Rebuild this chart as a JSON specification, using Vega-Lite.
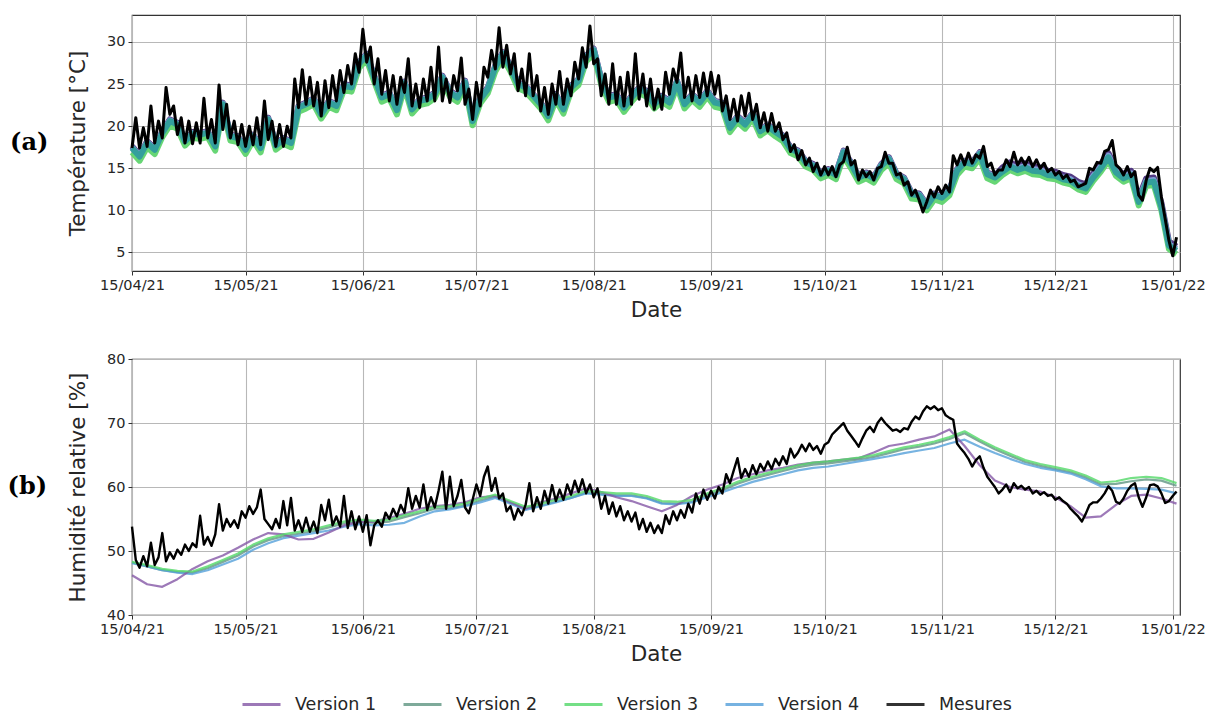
{
  "$schema": "https://vega.github.io/schema/vega-lite/v6.json",
  "padding": {"left": 6, "top": 14, "right": 2, "bottom": 0},
  "config": {
    "view": {"stroke": "#333333", "strokeWidth": 1.2},
    "font": "DejaVu Sans",
    "axis": {"labelFont": "DejaVu Sans", "labelFontSize": 14.5, "labelColor": "#262626", "titleFont": "DejaVu Sans", "titleFontSize": 21.5, "titleFontWeight": "normal", "titleColor": "#262626", "gridColor": "#b8b8b8", "gridWidth": 1.1, "domain": false, "tickColor": "#333333", "tickSize": 4, "labelPadding": 3}
  },
  "datasets": {
    "m": [
{"d":"2021-04-15","t":17.4,"h":53.8},{"d":"2021-04-16","t":21.0,"h":48.6},{"d":"2021-04-17","t":17.4,"h":47.4},{"d":"2021-04-18","t":19.8,"h":49.2},{"d":"2021-04-19","t":17.6,"h":47.6},{"d":"2021-04-20","t":22.4,"h":51.3},{"d":"2021-04-21","t":18.0,"h":47.8},{"d":"2021-04-22","t":20.6,"h":49.0},{"d":"2021-04-23","t":18.6,"h":52.8},{"d":"2021-04-24","t":24.6,"h":48.4},{"d":"2021-04-25","t":21.4,"h":49.8},{"d":"2021-04-26","t":22.4,"h":48.8},{"d":"2021-04-27","t":19.0,"h":50.2},{"d":"2021-04-28","t":21.0,"h":49.4},{"d":"2021-04-29","t":18.0,"h":51.0},{"d":"2021-04-30","t":20.6,"h":50.0},
{"d":"2021-05-01","t":17.9,"h":51.2},{"d":"2021-05-02","t":20.4,"h":50.6},{"d":"2021-05-03","t":18.0,"h":55.5},{"d":"2021-05-04","t":23.3,"h":51.0},{"d":"2021-05-05","t":18.6,"h":52.2},{"d":"2021-05-06","t":20.8,"h":50.8},{"d":"2021-05-07","t":18.0,"h":52.6},{"d":"2021-05-08","t":24.9,"h":57.3},{"d":"2021-05-09","t":19.6,"h":53.2},{"d":"2021-05-10","t":22.6,"h":55.0},{"d":"2021-05-11","t":18.6,"h":53.8},{"d":"2021-05-12","t":20.6,"h":54.8},{"d":"2021-05-13","t":17.8,"h":53.6},{"d":"2021-05-14","t":20.2,"h":56.2},{"d":"2021-05-15","t":17.6,"h":55.2},{"d":"2021-05-16","t":20.0,"h":57.0},{"d":"2021-05-17","t":17.8,"h":55.8},{"d":"2021-05-18","t":21.0,"h":56.8},{"d":"2021-05-19","t":17.8,"h":59.6},{"d":"2021-05-20","t":23.0,"h":55.0},{"d":"2021-05-21","t":18.4,"h":54.2},{"d":"2021-05-22","t":20.6,"h":53.4},{"d":"2021-05-23","t":17.6,"h":55.0},{"d":"2021-05-24","t":20.2,"h":53.6},{"d":"2021-05-25","t":17.6,"h":57.8},{"d":"2021-05-26","t":20.0,"h":54.0},{"d":"2021-05-27","t":18.6,"h":58.3},{"d":"2021-05-28","t":25.6,"h":53.2},{"d":"2021-05-29","t":22.2,"h":54.8},{"d":"2021-05-30","t":26.7,"h":53.0},{"d":"2021-05-31","t":22.6,"h":55.2},
{"d":"2021-06-01","t":25.8,"h":53.0},{"d":"2021-06-02","t":22.4,"h":54.6},{"d":"2021-06-03","t":25.2,"h":52.8},{"d":"2021-06-04","t":21.2,"h":57.2},{"d":"2021-06-05","t":25.4,"h":54.8},{"d":"2021-06-06","t":22.2,"h":58.0},{"d":"2021-06-07","t":26.0,"h":54.0},{"d":"2021-06-08","t":23.0,"h":55.4},{"d":"2021-06-09","t":26.6,"h":53.8},{"d":"2021-06-10","t":24.0,"h":58.6},{"d":"2021-06-11","t":27.2,"h":53.6},{"d":"2021-06-12","t":25.0,"h":56.2},{"d":"2021-06-13","t":28.6,"h":53.4},{"d":"2021-06-14","t":26.4,"h":55.4},{"d":"2021-06-15","t":31.5,"h":53.0},{"d":"2021-06-16","t":27.6,"h":55.6},{"d":"2021-06-17","t":29.4,"h":50.9},{"d":"2021-06-18","t":25.0,"h":54.0},{"d":"2021-06-19","t":28.0,"h":54.8},{"d":"2021-06-20","t":23.8,"h":53.8},{"d":"2021-06-21","t":26.6,"h":56.0},{"d":"2021-06-22","t":23.0,"h":55.0},{"d":"2021-06-23","t":26.0,"h":56.6},{"d":"2021-06-24","t":22.6,"h":55.4},{"d":"2021-06-25","t":25.8,"h":57.2},{"d":"2021-06-26","t":24.0,"h":56.0},{"d":"2021-06-27","t":28.0,"h":59.8},{"d":"2021-06-28","t":22.4,"h":56.6},{"d":"2021-06-29","t":25.0,"h":58.6},{"d":"2021-06-30","t":22.2,"h":56.8},
{"d":"2021-07-01","t":25.6,"h":60.4},{"d":"2021-07-02","t":23.0,"h":56.4},{"d":"2021-07-03","t":27.0,"h":58.4},{"d":"2021-07-04","t":23.0,"h":56.8},{"d":"2021-07-05","t":29.4,"h":59.4},{"d":"2021-07-06","t":23.0,"h":62.4},{"d":"2021-07-07","t":25.6,"h":56.6},{"d":"2021-07-08","t":22.8,"h":61.6},{"d":"2021-07-09","t":26.0,"h":57.0},{"d":"2021-07-10","t":24.2,"h":58.6},{"d":"2021-07-11","t":28.1,"h":61.1},{"d":"2021-07-12","t":22.6,"h":56.8},{"d":"2021-07-13","t":24.4,"h":55.9},{"d":"2021-07-14","t":20.8,"h":58.0},{"d":"2021-07-15","t":25.2,"h":60.4},{"d":"2021-07-16","t":22.4,"h":58.6},{"d":"2021-07-17","t":27.0,"h":61.6},{"d":"2021-07-18","t":25.8,"h":63.2},{"d":"2021-07-19","t":29.0,"h":59.4},{"d":"2021-07-20","t":26.8,"h":61.4},{"d":"2021-07-21","t":31.7,"h":58.2},{"d":"2021-07-22","t":27.0,"h":59.0},{"d":"2021-07-23","t":29.6,"h":56.2},{"d":"2021-07-24","t":26.2,"h":57.0},{"d":"2021-07-25","t":28.6,"h":54.9},{"d":"2021-07-26","t":24.2,"h":56.6},{"d":"2021-07-27","t":26.8,"h":55.6},{"d":"2021-07-28","t":23.6,"h":57.2},{"d":"2021-07-29","t":28.6,"h":60.6},{"d":"2021-07-30","t":23.6,"h":56.2},{"d":"2021-07-31","t":26.0,"h":58.4},
{"d":"2021-08-01","t":21.8,"h":56.6},{"d":"2021-08-02","t":24.6,"h":59.4},{"d":"2021-08-03","t":21.4,"h":57.4},{"d":"2021-08-04","t":25.0,"h":60.3},{"d":"2021-08-05","t":22.6,"h":57.8},{"d":"2021-08-06","t":26.5,"h":59.6},{"d":"2021-08-07","t":22.6,"h":58.0},{"d":"2021-08-08","t":25.6,"h":60.4},{"d":"2021-08-09","t":23.6,"h":58.8},{"d":"2021-08-10","t":27.6,"h":61.0},{"d":"2021-08-11","t":25.6,"h":59.2},{"d":"2021-08-12","t":29.3,"h":61.2},{"d":"2021-08-13","t":27.0,"h":59.0},{"d":"2021-08-14","t":31.9,"h":60.4},{"d":"2021-08-15","t":27.4,"h":58.4},{"d":"2021-08-16","t":28.0,"h":59.8},{"d":"2021-08-17","t":23.6,"h":56.6},{"d":"2021-08-18","t":26.2,"h":58.6},{"d":"2021-08-19","t":22.6,"h":55.8},{"d":"2021-08-20","t":27.4,"h":57.6},{"d":"2021-08-21","t":22.6,"h":55.4},{"d":"2021-08-22","t":25.8,"h":57.0},{"d":"2021-08-23","t":22.4,"h":54.8},{"d":"2021-08-24","t":26.4,"h":56.2},{"d":"2021-08-25","t":22.6,"h":54.6},{"d":"2021-08-26","t":28.6,"h":56.0},{"d":"2021-08-27","t":23.2,"h":53.4},{"d":"2021-08-28","t":26.2,"h":55.0},{"d":"2021-08-29","t":22.4,"h":53.0},{"d":"2021-08-30","t":25.6,"h":54.4},{"d":"2021-08-31","t":22.0,"h":52.8},
{"d":"2021-09-01","t":24.4,"h":54.0},{"d":"2021-09-02","t":22.0,"h":52.8},{"d":"2021-09-03","t":26.4,"h":55.6},{"d":"2021-09-04","t":23.8,"h":54.2},{"d":"2021-09-05","t":26.8,"h":56.2},{"d":"2021-09-06","t":25.2,"h":54.8},{"d":"2021-09-07","t":28.7,"h":56.4},{"d":"2021-09-08","t":23.4,"h":55.2},{"d":"2021-09-09","t":25.8,"h":57.4},{"d":"2021-09-10","t":23.0,"h":56.0},{"d":"2021-09-11","t":26.0,"h":59.0},{"d":"2021-09-12","t":23.4,"h":57.4},{"d":"2021-09-13","t":26.3,"h":59.6},{"d":"2021-09-14","t":23.6,"h":58.0},{"d":"2021-09-15","t":26.4,"h":59.4},{"d":"2021-09-16","t":23.8,"h":58.2},{"d":"2021-09-17","t":26.0,"h":60.0},{"d":"2021-09-18","t":21.8,"h":59.0},{"d":"2021-09-19","t":23.6,"h":62.0},{"d":"2021-09-20","t":20.8,"h":60.6},{"d":"2021-09-21","t":23.2,"h":62.6},{"d":"2021-09-22","t":20.6,"h":64.5},{"d":"2021-09-23","t":23.6,"h":61.4},{"d":"2021-09-24","t":21.2,"h":62.8},{"d":"2021-09-25","t":23.9,"h":61.6},{"d":"2021-09-26","t":20.8,"h":63.4},{"d":"2021-09-27","t":22.6,"h":62.0},{"d":"2021-09-28","t":19.8,"h":63.6},{"d":"2021-09-29","t":21.6,"h":62.6},{"d":"2021-09-30","t":19.4,"h":64.0},
{"d":"2021-10-01","t":21.5,"h":62.8},{"d":"2021-10-02","t":19.4,"h":64.4},{"d":"2021-10-03","t":20.4,"h":63.4},{"d":"2021-10-04","t":18.4,"h":64.8},{"d":"2021-10-05","t":19.2,"h":63.6},{"d":"2021-10-06","t":17.0,"h":66.0},{"d":"2021-10-07","t":17.8,"h":64.6},{"d":"2021-10-08","t":16.0,"h":65.4},{"d":"2021-10-09","t":17.1,"h":66.6},{"d":"2021-10-10","t":15.4,"h":65.6},{"d":"2021-10-11","t":16.2,"h":66.8},{"d":"2021-10-12","t":14.6,"h":65.8},{"d":"2021-10-13","t":15.6,"h":66.4},{"d":"2021-10-14","t":14.2,"h":65.2},{"d":"2021-10-15","t":15.2,"h":66.6},{"d":"2021-10-16","t":14.2,"h":67.0},{"d":"2021-10-17","t":15.2,"h":68.2},{"d":"2021-10-18","t":14.0,"h":68.8},{"d":"2021-10-19","t":15.4,"h":69.4},{"d":"2021-10-20","t":15.8,"h":70.0},{"d":"2021-10-21","t":17.5,"h":68.8},{"d":"2021-10-22","t":15.4,"h":68.0},{"d":"2021-10-23","t":15.9,"h":67.2},{"d":"2021-10-24","t":13.6,"h":66.3},{"d":"2021-10-25","t":14.8,"h":67.6},{"d":"2021-10-26","t":14.0,"h":68.8},{"d":"2021-10-27","t":14.6,"h":69.4},{"d":"2021-10-28","t":13.6,"h":68.6},{"d":"2021-10-29","t":15.0,"h":70.0},{"d":"2021-10-30","t":15.2,"h":70.8},{"d":"2021-10-31","t":16.9,"h":70.0},
{"d":"2021-11-01","t":15.6,"h":69.4},{"d":"2021-11-02","t":15.6,"h":68.8},{"d":"2021-11-03","t":14.2,"h":69.0},{"d":"2021-11-04","t":14.4,"h":68.6},{"d":"2021-11-05","t":13.0,"h":69.2},{"d":"2021-11-06","t":13.4,"h":69.0},{"d":"2021-11-07","t":11.8,"h":70.2},{"d":"2021-11-08","t":12.4,"h":71.0},{"d":"2021-11-09","t":11.2,"h":70.6},{"d":"2021-11-10","t":9.8,"h":71.8},{"d":"2021-11-11","t":11.0,"h":72.6},{"d":"2021-11-12","t":12.4,"h":72.2},{"d":"2021-11-13","t":11.6,"h":72.6},{"d":"2021-11-14","t":12.8,"h":72.0},{"d":"2021-11-15","t":12.0,"h":72.3},{"d":"2021-11-16","t":13.0,"h":71.2},{"d":"2021-11-17","t":12.2,"h":70.8},{"d":"2021-11-18","t":16.5,"h":70.5},{"d":"2021-11-19","t":15.4,"h":66.8},{"d":"2021-11-20","t":16.6,"h":66.0},{"d":"2021-11-21","t":15.4,"h":65.3},{"d":"2021-11-22","t":16.8,"h":64.4},{"d":"2021-11-23","t":15.6,"h":63.2},{"d":"2021-11-24","t":16.6,"h":64.2},{"d":"2021-11-25","t":16.2,"h":64.8},{"d":"2021-11-26","t":17.6,"h":63.0},{"d":"2021-11-27","t":15.2,"h":61.6},{"d":"2021-11-28","t":15.6,"h":60.8},{"d":"2021-11-29","t":14.2,"h":60.0},{"d":"2021-11-30","t":14.8,"h":59.0},
{"d":"2021-12-01","t":14.8,"h":59.6},{"d":"2021-12-02","t":16.0,"h":60.4},{"d":"2021-12-03","t":15.2,"h":59.2},{"d":"2021-12-04","t":16.9,"h":60.6},{"d":"2021-12-05","t":15.4,"h":59.8},{"d":"2021-12-06","t":16.2,"h":60.2},{"d":"2021-12-07","t":15.4,"h":59.6},{"d":"2021-12-08","t":16.3,"h":60.0},{"d":"2021-12-09","t":15.2,"h":59.0},{"d":"2021-12-10","t":16.0,"h":59.4},{"d":"2021-12-11","t":15.0,"h":58.8},{"d":"2021-12-12","t":15.6,"h":59.2},{"d":"2021-12-13","t":14.6,"h":58.6},{"d":"2021-12-14","t":15.0,"h":58.8},{"d":"2021-12-15","t":14.2,"h":58.0},{"d":"2021-12-16","t":14.6,"h":58.4},{"d":"2021-12-17","t":13.8,"h":57.8},{"d":"2021-12-18","t":14.2,"h":57.4},{"d":"2021-12-19","t":13.4,"h":56.6},{"d":"2021-12-20","t":13.6,"h":56.0},{"d":"2021-12-21","t":12.8,"h":55.4},{"d":"2021-12-22","t":13.0,"h":54.6},{"d":"2021-12-23","t":13.2,"h":55.8},{"d":"2021-12-24","t":15.0,"h":57.2},{"d":"2021-12-25","t":14.8,"h":57.6},{"d":"2021-12-26","t":15.7,"h":57.6},{"d":"2021-12-27","t":15.6,"h":58.2},{"d":"2021-12-28","t":17.0,"h":59.0},{"d":"2021-12-29","t":17.2,"h":60.1},{"d":"2021-12-30","t":18.3,"h":59.4},{"d":"2021-12-31","t":15.4,"h":57.7},
{"d":"2022-01-01","t":15.0,"h":57.4},{"d":"2022-01-02","t":14.2,"h":58.2},{"d":"2022-01-03","t":15.2,"h":59.4},{"d":"2022-01-04","t":14.0,"h":60.2},{"d":"2022-01-05","t":14.6,"h":60.6},{"d":"2022-01-06","t":11.8,"h":58.4},{"d":"2022-01-07","t":11.2,"h":56.9},{"d":"2022-01-08","t":13.6,"h":58.4},{"d":"2022-01-09","t":15.0,"h":60.3},{"d":"2022-01-10","t":14.6,"h":60.4},{"d":"2022-01-11","t":15.1,"h":60.1},{"d":"2022-01-12","t":11.6,"h":59.0},{"d":"2022-01-13","t":9.0,"h":57.5},{"d":"2022-01-14","t":6.4,"h":57.8},{"d":"2022-01-15","t":4.6,"h":58.6},{"d":"2022-01-16","t":6.8,"h":59.3}
    ],
    "vt": [
{"d":"2021-04-15","V1":17.6,"V2":17.4,"V3":16.9,"V4":17.5},{"d":"2021-04-17","V1":16.6,"V2":16.4,"V3":15.9,"V4":16.5},{"d":"2021-04-19","V1":18.2,"V2":18.0,"V3":17.5,"V4":18.1},{"d":"2021-04-21","V1":17.4,"V2":17.2,"V3":16.7,"V4":17.3},{"d":"2021-04-23","V1":19.4,"V2":19.2,"V3":18.7,"V4":19.3},{"d":"2021-04-25","V1":20.8,"V2":20.6,"V3":20.1,"V4":20.7},{"d":"2021-04-27","V1":20.4,"V2":20.2,"V3":19.7,"V4":20.3},{"d":"2021-04-29","V1":18.4,"V2":18.2,"V3":17.7,"V4":18.3},
{"d":"2021-05-01","V1":19.3,"V2":19.1,"V3":18.6,"V4":19.2},{"d":"2021-05-03","V1":19.2,"V2":19.0,"V3":18.5,"V4":19.1},{"d":"2021-05-05","V1":19.4,"V2":19.2,"V3":18.7,"V4":19.3},{"d":"2021-05-07","V1":17.8,"V2":17.6,"V3":17.1,"V4":17.7},{"d":"2021-05-09","V1":22.8,"V2":22.6,"V3":22.1,"V4":22.7},{"d":"2021-05-11","V1":19.0,"V2":18.8,"V3":18.3,"V4":18.9},{"d":"2021-05-13","V1":18.8,"V2":18.6,"V3":18.1,"V4":18.7},{"d":"2021-05-15","V1":17.4,"V2":17.2,"V3":16.7,"V4":17.3},{"d":"2021-05-17","V1":19.0,"V2":18.8,"V3":18.3,"V4":18.9},{"d":"2021-05-19","V1":17.6,"V2":17.4,"V3":16.9,"V4":17.5},{"d":"2021-05-21","V1":21.0,"V2":20.8,"V3":20.3,"V4":20.9},{"d":"2021-05-23","V1":17.9,"V2":17.7,"V3":17.2,"V4":17.8},{"d":"2021-05-25","V1":18.6,"V2":18.4,"V3":17.9,"V4":18.5},{"d":"2021-05-27","V1":18.2,"V2":18.0,"V3":17.5,"V4":18.1},{"d":"2021-05-29","V1":22.4,"V2":22.2,"V3":21.7,"V4":22.3},{"d":"2021-05-31","V1":22.8,"V2":22.6,"V3":22.1,"V4":22.7},
{"d":"2021-06-02","V1":23.3,"V2":23.1,"V3":22.6,"V4":23.2},{"d":"2021-06-04","V1":21.6,"V2":21.4,"V3":20.9,"V4":21.5},{"d":"2021-06-06","V1":23.0,"V2":22.8,"V3":22.3,"V4":22.9},{"d":"2021-06-08","V1":22.6,"V2":22.4,"V3":21.9,"V4":22.5},{"d":"2021-06-10","V1":25.0,"V2":24.8,"V3":24.3,"V4":24.9},{"d":"2021-06-12","V1":24.8,"V2":24.6,"V3":24.1,"V4":24.7},{"d":"2021-06-14","V1":27.6,"V2":27.4,"V3":26.9,"V4":27.5},{"d":"2021-06-16","V1":28.6,"V2":28.4,"V3":27.9,"V4":28.5},{"d":"2021-06-18","V1":26.0,"V2":25.8,"V3":25.3,"V4":25.9},{"d":"2021-06-20","V1":23.6,"V2":23.4,"V3":22.9,"V4":23.5},{"d":"2021-06-22","V1":24.0,"V2":23.8,"V3":23.3,"V4":23.9},{"d":"2021-06-24","V1":22.1,"V2":21.9,"V3":21.4,"V4":22.0},{"d":"2021-06-26","V1":25.3,"V2":25.1,"V3":24.6,"V4":25.2},{"d":"2021-06-28","V1":22.2,"V2":22.0,"V3":21.5,"V4":22.1},{"d":"2021-06-30","V1":23.2,"V2":23.0,"V3":22.5,"V4":23.1},
{"d":"2021-07-02","V1":23.4,"V2":23.2,"V3":22.7,"V4":23.3},{"d":"2021-07-04","V1":24.0,"V2":23.8,"V3":23.3,"V4":23.9},{"d":"2021-07-06","V1":26.0,"V2":25.8,"V3":25.3,"V4":25.9},{"d":"2021-07-08","V1":24.2,"V2":24.0,"V3":23.5,"V4":24.1},{"d":"2021-07-10","V1":23.6,"V2":23.4,"V3":22.9,"V4":23.5},{"d":"2021-07-12","V1":25.4,"V2":25.2,"V3":24.7,"V4":25.3},{"d":"2021-07-14","V1":20.8,"V2":20.6,"V3":20.1,"V4":20.7},{"d":"2021-07-16","V1":23.4,"V2":23.2,"V3":22.7,"V4":23.3},{"d":"2021-07-18","V1":24.6,"V2":24.4,"V3":23.9,"V4":24.5},{"d":"2021-07-20","V1":27.2,"V2":27.0,"V3":26.5,"V4":27.1},{"d":"2021-07-22","V1":28.8,"V2":28.6,"V3":28.1,"V4":28.7},{"d":"2021-07-24","V1":27.2,"V2":27.0,"V3":26.5,"V4":27.1},{"d":"2021-07-26","V1":25.2,"V2":25.0,"V3":24.5,"V4":25.1},{"d":"2021-07-28","V1":24.8,"V2":24.6,"V3":24.1,"V4":24.7},{"d":"2021-07-30","V1":23.8,"V2":23.6,"V3":23.1,"V4":23.7},
{"d":"2021-08-01","V1":22.8,"V2":22.6,"V3":22.1,"V4":22.7},{"d":"2021-08-03","V1":21.4,"V2":21.2,"V3":20.7,"V4":21.3},{"d":"2021-08-05","V1":23.8,"V2":23.6,"V3":23.1,"V4":23.7},{"d":"2021-08-07","V1":22.2,"V2":22.0,"V3":21.5,"V4":22.1},{"d":"2021-08-09","V1":24.8,"V2":24.6,"V3":24.1,"V4":24.7},{"d":"2021-08-11","V1":25.6,"V2":25.4,"V3":24.9,"V4":25.5},{"d":"2021-08-13","V1":28.4,"V2":28.2,"V3":27.7,"V4":28.3},{"d":"2021-08-15","V1":29.2,"V2":29.0,"V3":28.5,"V4":29.1},{"d":"2021-08-17","V1":25.6,"V2":25.4,"V3":24.9,"V4":25.5},{"d":"2021-08-19","V1":23.6,"V2":23.4,"V3":22.9,"V4":23.5},{"d":"2021-08-21","V1":23.8,"V2":23.6,"V3":23.1,"V4":23.7},{"d":"2021-08-23","V1":22.4,"V2":22.2,"V3":21.7,"V4":22.3},{"d":"2021-08-25","V1":23.6,"V2":23.4,"V3":22.9,"V4":23.5},{"d":"2021-08-27","V1":24.6,"V2":24.4,"V3":23.9,"V4":24.5},{"d":"2021-08-29","V1":24.2,"V2":24.0,"V3":23.5,"V4":24.1},{"d":"2021-08-31","V1":22.8,"V2":22.6,"V3":22.1,"V4":22.7},
{"d":"2021-09-02","V1":23.6,"V2":23.4,"V3":22.9,"V4":23.5},{"d":"2021-09-04","V1":23.0,"V2":22.8,"V3":22.3,"V4":22.9},{"d":"2021-09-06","V1":25.4,"V2":25.2,"V3":24.7,"V4":25.3},{"d":"2021-09-08","V1":22.8,"V2":22.6,"V3":22.1,"V4":22.7},{"d":"2021-09-10","V1":23.8,"V2":23.6,"V3":23.1,"V4":23.7},{"d":"2021-09-12","V1":23.0,"V2":22.8,"V3":22.3,"V4":22.9},{"d":"2021-09-14","V1":24.2,"V2":24.0,"V3":23.5,"V4":24.1},{"d":"2021-09-16","V1":23.0,"V2":22.8,"V3":22.3,"V4":22.9},{"d":"2021-09-18","V1":22.8,"V2":22.6,"V3":22.1,"V4":22.7},{"d":"2021-09-20","V1":20.0,"V2":19.8,"V3":19.3,"V4":19.9},{"d":"2021-09-22","V1":21.2,"V2":21.0,"V3":20.5,"V4":21.1},{"d":"2021-09-24","V1":20.4,"V2":20.2,"V3":19.7,"V4":20.3},{"d":"2021-09-26","V1":21.6,"V2":21.4,"V3":20.9,"V4":21.5},{"d":"2021-09-28","V1":19.6,"V2":19.4,"V3":18.9,"V4":19.5},{"d":"2021-09-30","V1":20.2,"V2":20.0,"V3":19.5,"V4":20.1},
{"d":"2021-10-02","V1":19.5,"V2":19.3,"V3":18.8,"V4":19.4},{"d":"2021-10-04","V1":18.9,"V2":18.7,"V3":18.2,"V4":18.8},{"d":"2021-10-06","V1":17.5,"V2":17.3,"V3":16.8,"V4":17.4},{"d":"2021-10-08","V1":17.1,"V2":16.9,"V3":16.4,"V4":17.0},{"d":"2021-10-10","V1":15.9,"V2":15.7,"V3":15.2,"V4":15.8},{"d":"2021-10-12","V1":15.5,"V2":15.3,"V3":14.8,"V4":15.4},{"d":"2021-10-14","V1":14.5,"V2":14.3,"V3":13.8,"V4":14.4},{"d":"2021-10-16","V1":14.9,"V2":14.7,"V3":14.2,"V4":14.8},{"d":"2021-10-18","V1":14.4,"V2":14.2,"V3":13.7,"V4":14.3},{"d":"2021-10-20","V1":17.1,"V2":16.9,"V3":16.4,"V4":17.0},{"d":"2021-10-22","V1":15.7,"V2":15.5,"V3":15.0,"V4":15.6},{"d":"2021-10-24","V1":14.1,"V2":13.9,"V3":13.4,"V4":14.0},{"d":"2021-10-26","V1":14.5,"V2":14.3,"V3":13.8,"V4":14.4},{"d":"2021-10-28","V1":14.0,"V2":13.8,"V3":13.3,"V4":13.9},{"d":"2021-10-30","V1":15.5,"V2":15.3,"V3":14.8,"V4":15.4},
{"d":"2021-11-01","V1":16.3,"V2":16.1,"V3":15.6,"V4":16.2},{"d":"2021-11-03","V1":14.4,"V2":14.2,"V3":13.7,"V4":14.3},{"d":"2021-11-05","V1":13.9,"V2":13.7,"V3":13.2,"V4":13.8},{"d":"2021-11-07","V1":12.1,"V2":11.9,"V3":11.4,"V4":12.0},{"d":"2021-11-09","V1":12.0,"V2":11.8,"V3":11.3,"V4":11.9},{"d":"2021-11-11","V1":10.7,"V2":10.5,"V3":10.0,"V4":10.6},{"d":"2021-11-13","V1":12.0,"V2":11.8,"V3":11.3,"V4":11.9},{"d":"2021-11-15","V1":11.7,"V2":11.5,"V3":11.0,"V4":11.6},{"d":"2021-11-17","V1":12.5,"V2":12.3,"V3":11.8,"V4":12.4},{"d":"2021-11-19","V1":14.9,"V2":14.7,"V3":14.2,"V4":14.8},{"d":"2021-11-21","V1":15.9,"V2":15.7,"V3":15.2,"V4":15.8},{"d":"2021-11-23","V1":15.7,"V2":15.5,"V3":15.0,"V4":15.6},{"d":"2021-11-25","V1":16.9,"V2":16.7,"V3":16.2,"V4":16.8},{"d":"2021-11-27","V1":14.5,"V2":14.3,"V3":13.8,"V4":14.4},{"d":"2021-11-29","V1":14.1,"V2":13.9,"V3":13.4,"V4":14.0},
{"d":"2021-12-01","V1":15.1,"V2":14.6,"V3":14.2,"V4":14.8},{"d":"2021-12-03","V1":15.7,"V2":15.2,"V3":14.8,"V4":15.4},{"d":"2021-12-05","V1":15.3,"V2":14.8,"V3":14.4,"V4":15.0},{"d":"2021-12-07","V1":15.6,"V2":15.1,"V3":14.7,"V4":15.3},{"d":"2021-12-09","V1":15.2,"V2":14.7,"V3":14.3,"V4":14.9},{"d":"2021-12-11","V1":15.1,"V2":14.6,"V3":14.2,"V4":14.8},{"d":"2021-12-13","V1":14.7,"V2":14.2,"V3":13.8,"V4":14.4},{"d":"2021-12-15","V1":14.6,"V2":14.1,"V3":13.7,"V4":14.3},{"d":"2021-12-17","V1":14.2,"V2":13.7,"V3":13.3,"V4":13.9},{"d":"2021-12-19","V1":14.0,"V2":13.5,"V3":13.1,"V4":13.7},{"d":"2021-12-21","V1":13.4,"V2":12.9,"V3":12.5,"V4":13.1},{"d":"2021-12-23","V1":13.1,"V2":12.6,"V3":12.2,"V4":12.8},{"d":"2021-12-25","V1":14.4,"V2":13.9,"V3":13.5,"V4":14.1},{"d":"2021-12-27","V1":15.5,"V2":15.0,"V3":14.6,"V4":15.2},{"d":"2021-12-29","V1":16.8,"V2":16.3,"V3":15.9,"V4":16.5},{"d":"2021-12-31","V1":15.0,"V2":14.5,"V3":14.1,"V4":14.7},
{"d":"2022-01-02","V1":14.3,"V2":13.8,"V3":13.4,"V4":14.0},{"d":"2022-01-04","V1":14.7,"V2":14.2,"V3":13.8,"V4":14.4},{"d":"2022-01-06","V1":11.5,"V2":11.0,"V3":10.6,"V4":11.2},{"d":"2022-01-08","V1":13.8,"V2":13.3,"V3":12.9,"V4":13.5},{"d":"2022-01-10","V1":13.9,"V2":13.4,"V3":13.0,"V4":13.6},{"d":"2022-01-12","V1":10.9,"V2":10.4,"V3":10.0,"V4":10.6},{"d":"2022-01-14","V1":6.3,"V2":5.8,"V3":5.4,"V4":6.0},{"d":"2022-01-16","V1":5.7,"V2":5.2,"V3":4.8,"V4":5.4}
    ],
    "vh": [
{"d":"2021-04-15","V1":46.2,"V2":48.2,"V3":48.3,"V4":48.1},{"d":"2021-04-19","V1":44.8,"V2":47.6,"V3":47.8,"V4":47.6},{"d":"2021-04-23","V1":44.4,"V2":47.0,"V3":47.2,"V4":47.0},{"d":"2021-04-27","V1":45.6,"V2":46.7,"V3":46.9,"V4":46.6},{"d":"2021-05-01","V1":47.2,"V2":46.6,"V3":46.8,"V4":46.4},{"d":"2021-05-05","V1":48.4,"V2":47.3,"V3":47.6,"V4":47.0},{"d":"2021-05-09","V1":49.3,"V2":48.3,"V3":48.6,"V4":47.9},{"d":"2021-05-13","V1":50.5,"V2":49.3,"V3":49.6,"V4":48.8},{"d":"2021-05-17","V1":51.8,"V2":50.7,"V3":51.0,"V4":50.2},{"d":"2021-05-21","V1":52.8,"V2":51.7,"V3":52.0,"V4":51.2},{"d":"2021-05-25","V1":52.6,"V2":52.3,"V3":52.6,"V4":52.0},{"d":"2021-05-29","V1":51.8,"V2":52.7,"V3":53.0,"V4":52.4},
{"d":"2021-06-02","V1":51.9,"V2":53.1,"V3":53.4,"V4":52.8},{"d":"2021-06-06","V1":52.9,"V2":53.7,"V3":54.0,"V4":53.2},{"d":"2021-06-10","V1":54.0,"V2":54.3,"V3":54.6,"V4":53.8},{"d":"2021-06-14","V1":54.5,"V2":54.6,"V3":54.9,"V4":54.2},{"d":"2021-06-18","V1":54.6,"V2":54.4,"V3":54.7,"V4":54.0},{"d":"2021-06-22","V1":55.2,"V2":54.6,"V3":54.9,"V4":54.1},{"d":"2021-06-26","V1":55.8,"V2":55.3,"V3":55.6,"V4":54.4},{"d":"2021-06-30","V1":56.6,"V2":55.9,"V3":56.2,"V4":55.4},
{"d":"2021-07-04","V1":57.0,"V2":56.6,"V3":56.9,"V4":56.2},{"d":"2021-07-08","V1":57.2,"V2":56.7,"V3":57.0,"V4":56.5},{"d":"2021-07-12","V1":57.6,"V2":57.1,"V3":57.4,"V4":57.0},{"d":"2021-07-16","V1":58.4,"V2":57.9,"V3":58.2,"V4":57.6},{"d":"2021-07-20","V1":58.6,"V2":58.5,"V3":58.8,"V4":58.3},{"d":"2021-07-24","V1":57.6,"V2":57.5,"V3":57.8,"V4":57.4},{"d":"2021-07-28","V1":56.6,"V2":56.6,"V3":56.9,"V4":56.4},
{"d":"2021-08-01","V1":57.6,"V2":57.1,"V3":57.4,"V4":57.0},{"d":"2021-08-05","V1":58.2,"V2":57.7,"V3":58.0,"V4":57.6},{"d":"2021-08-09","V1":59.0,"V2":58.3,"V3":58.6,"V4":58.3},{"d":"2021-08-13","V1":59.8,"V2":59.1,"V3":59.4,"V4":59.0},{"d":"2021-08-17","V1":59.2,"V2":58.9,"V3":59.2,"V4":58.8},{"d":"2021-08-21","V1":58.4,"V2":58.7,"V3":59.0,"V4":58.6},{"d":"2021-08-25","V1":57.8,"V2":58.7,"V3":59.0,"V4":58.6},{"d":"2021-08-29","V1":57.0,"V2":58.3,"V3":58.6,"V4":58.2},
{"d":"2021-09-02","V1":56.2,"V2":57.5,"V3":57.8,"V4":57.4},{"d":"2021-09-06","V1":57.2,"V2":57.4,"V3":57.7,"V4":57.3},{"d":"2021-09-10","V1":58.6,"V2":57.7,"V3":58.0,"V4":57.6},{"d":"2021-09-14","V1":59.6,"V2":58.7,"V3":59.0,"V4":58.4},{"d":"2021-09-18","V1":60.4,"V2":59.5,"V3":59.8,"V4":59.2},{"d":"2021-09-22","V1":61.4,"V2":60.5,"V3":60.8,"V4":60.0},{"d":"2021-09-26","V1":62.0,"V2":61.3,"V3":61.6,"V4":60.8},{"d":"2021-09-30","V1":62.6,"V2":61.9,"V3":62.2,"V4":61.4},
{"d":"2021-10-04","V1":63.0,"V2":62.5,"V3":62.8,"V4":62.0},{"d":"2021-10-08","V1":63.5,"V2":63.1,"V3":63.4,"V4":62.6},{"d":"2021-10-12","V1":63.8,"V2":63.5,"V3":63.8,"V4":63.0},{"d":"2021-10-16","V1":64.0,"V2":63.7,"V3":64.0,"V4":63.2},{"d":"2021-10-20","V1":64.3,"V2":64.0,"V3":64.3,"V4":63.6},{"d":"2021-10-24","V1":64.5,"V2":64.3,"V3":64.6,"V4":64.0},{"d":"2021-10-28","V1":65.4,"V2":64.7,"V3":65.0,"V4":64.4},
{"d":"2021-11-01","V1":66.4,"V2":65.3,"V3":65.6,"V4":64.8},{"d":"2021-11-05","V1":66.8,"V2":65.9,"V3":66.2,"V4":65.3},{"d":"2021-11-09","V1":67.4,"V2":66.3,"V3":66.6,"V4":65.7},{"d":"2021-11-13","V1":67.9,"V2":66.8,"V3":67.1,"V4":66.1},{"d":"2021-11-17","V1":69.0,"V2":67.5,"V3":67.8,"V4":66.8},{"d":"2021-11-21","V1":66.4,"V2":68.4,"V3":68.7,"V4":67.4},{"d":"2021-11-25","V1":63.4,"V2":67.1,"V3":67.4,"V4":66.3},{"d":"2021-11-29","V1":61.0,"V2":65.9,"V3":66.2,"V4":65.3},
{"d":"2021-12-03","V1":60.0,"V2":64.9,"V3":65.2,"V4":64.4},{"d":"2021-12-07","V1":59.6,"V2":63.9,"V3":64.2,"V4":63.6},{"d":"2021-12-11","V1":59.3,"V2":63.3,"V3":63.6,"V4":63.0},{"d":"2021-12-15","V1":58.4,"V2":62.8,"V3":63.1,"V4":62.6},{"d":"2021-12-19","V1":57.0,"V2":62.3,"V3":62.6,"V4":62.1},{"d":"2021-12-23","V1":55.2,"V2":61.5,"V3":61.8,"V4":61.2},{"d":"2021-12-27","V1":55.4,"V2":60.4,"V3":60.7,"V4":60.1},{"d":"2021-12-31","V1":57.2,"V2":60.5,"V3":60.9,"V4":59.8},
{"d":"2022-01-04","V1":58.6,"V2":60.9,"V3":61.4,"V4":59.8},{"d":"2022-01-08","V1":58.8,"V2":61.2,"V3":61.6,"V4":59.7},{"d":"2022-01-12","V1":58.2,"V2":61.0,"V3":61.4,"V4":59.6},{"d":"2022-01-16","V1":57.4,"V2":60.2,"V3":60.6,"V4":59.0}
    ]
  },
  "spacing": 28,
  "resolve": {"scale": {"color": "independent"}},
  "vconcat": [
    {
      "width": 1048, "height": 256,
      "title": {"text": "(a)", "orient": "left", "angle": 0, "anchor": "middle", "align": "right", "baseline": "middle", "font": "DejaVu Serif", "fontSize": 24, "fontWeight": "bold", "color": "#000000", "offset": -19},
      "encoding": {
        "x": {"field": "d", "type": "temporal",
          "scale": {"type": "utc", "domain": [{"year": 2021, "month": 4, "date": 15, "utc": true}, {"year": 2022, "month": 1, "date": 16, "hours": 22, "utc": true}]},
          "axis": {"title": "Date", "format": "%d/%m/%y", "labelFlush": false, "labelOverlap": false, "grid": true, "titlePadding": 8,
            "values": [{"year":2021,"month":4,"date":15,"utc":true},{"year":2021,"month":5,"date":15,"utc":true},{"year":2021,"month":6,"date":15,"utc":true},{"year":2021,"month":7,"date":15,"utc":true},{"year":2021,"month":8,"date":15,"utc":true},{"year":2021,"month":9,"date":15,"utc":true},{"year":2021,"month":10,"date":15,"utc":true},{"year":2021,"month":11,"date":15,"utc":true},{"year":2021,"month":12,"date":15,"utc":true},{"year":2022,"month":1,"date":15,"utc":true}]}}
      },
      "layer": [
        {
          "data": {"name": "vt"},
          "transform": [{"fold": ["V1", "V3", "V4", "V2"], "as": ["s", "v"]}],
          "mark": {"type": "line", "strokeWidth": 6, "strokeJoin": "round", "opacity": 0.95},
          "encoding": {
            "y": {"field": "v", "type": "quantitative", "scale": {"domain": [2.8, 33.2], "nice": false, "zero": false},
              "axis": {"title": "Température [°C]", "values": [5, 10, 15, 20, 25, 30], "grid": true, "titlePadding": 17}},
            "color": {"field": "s", "type": "nominal", "legend": null,
              "scale": {"domain": ["V1", "V2", "V3", "V4", "Mesures"], "range": ["#4a2f7c", "#2f9e9a", "#5fd46e", "#7ea3d8", "#000000"]}}
          }
        },
        {
          "data": {"name": "m"},
          "mark": {"type": "line", "strokeWidth": 3, "strokeJoin": "round"},
          "encoding": {
            "y": {"field": "t", "type": "quantitative"},
            "color": {"datum": "Mesures", "type": "nominal"}
          }
        }
      ]
    },
    {
      "width": 1048, "height": 256,
      "title": {"text": "(b)", "orient": "left", "angle": 0, "anchor": "middle", "align": "right", "baseline": "middle", "font": "DejaVu Serif", "fontSize": 24, "fontWeight": "bold", "color": "#000000", "offset": -19},
      "encoding": {
        "x": {"field": "d", "type": "temporal",
          "scale": {"type": "utc", "domain": [{"year": 2021, "month": 4, "date": 15, "utc": true}, {"year": 2022, "month": 1, "date": 16, "hours": 22, "utc": true}]},
          "axis": {"title": "Date", "format": "%d/%m/%y", "labelFlush": false, "labelOverlap": false, "grid": true, "titlePadding": 8,
            "values": [{"year":2021,"month":4,"date":15,"utc":true},{"year":2021,"month":5,"date":15,"utc":true},{"year":2021,"month":6,"date":15,"utc":true},{"year":2021,"month":7,"date":15,"utc":true},{"year":2021,"month":8,"date":15,"utc":true},{"year":2021,"month":9,"date":15,"utc":true},{"year":2021,"month":10,"date":15,"utc":true},{"year":2021,"month":11,"date":15,"utc":true},{"year":2021,"month":12,"date":15,"utc":true},{"year":2022,"month":1,"date":15,"utc":true}]}}
      },
      "layer": [
        {
          "data": {"name": "vh"},
          "transform": [{"fold": ["V2", "V4", "V1", "V3"], "as": ["s", "v"]}],
          "mark": {"type": "line", "strokeWidth": 2.2, "strokeJoin": "round", "opacity": 0.8},
          "encoding": {
            "y": {"field": "v", "type": "quantitative", "scale": {"domain": [40, 80], "nice": false, "zero": false},
              "axis": {"title": "Humidité relative [%]", "values": [40, 45, 50, 55, 60, 65, 70, 75, 80], "grid": true, "titlePadding": 17}},
            "color": {"field": "s", "type": "nominal",
              "scale": {"domain": ["V1", "V2", "V3", "V4", "Mesures"], "range": ["#8457a6", "#5f9582", "#52d868", "#55a0da", "#000000"]},
              "legend": {"orient": "none", "legendX": 109, "legendY": 325, "direction": "horizontal", "title": null, "symbolType": "stroke", "symbolSize": 1444, "symbolStrokeWidth": 3, "labelFontSize": 17.5, "labelFont": "DejaVu Sans", "labelColor": "#262626", "columnPadding": 20, "labelOffset": 13, "labelExpr": "replace(datum.label, 'V', 'Version ')"}}
          }
        },
        {
          "data": {"name": "m"},
          "mark": {"type": "line", "strokeWidth": 2.4, "strokeJoin": "round"},
          "encoding": {
            "y": {"field": "h", "type": "quantitative"},
            "color": {"datum": "Mesures", "type": "nominal"}
          }
        }
      ]
    }
  ]
}
